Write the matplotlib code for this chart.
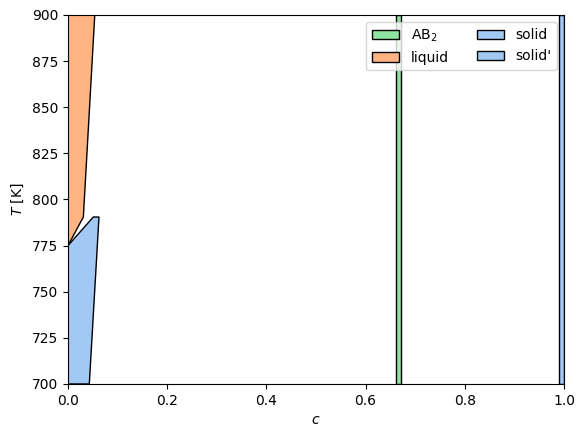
import matplotlib
matplotlib.use("Agg")
import matplotlib.pyplot as plt

# Phase regions (composition c, temperature T)
ab2_c = [0.6617, 0.6717, 0.6717, 0.6617]
ab2_T = [700, 700, 900, 900]

liquid_c = [0.0, 0.054, 0.031, 0.0]
liquid_T = [900, 900, 790.5, 775]

solid_c = [0.0, 0.043, 0.0625, 0.051, 0.0]
solid_T = [700, 700, 790.5, 790.5, 775]

solidp_c = [0.989, 1.0, 1.0, 0.989]
solidp_T = [700, 700, 900, 900]

colors = {"AB$_2$": "#8de5a1", "liquid": "#ffb482", "solid": "#a1c9f4", "solid'": "#a1c9f4"}

fig = plt.figure(figsize=(5.84, 4.38), dpi=100)
ax = fig.add_axes([0.1164, 0.1233, 0.8494, 0.8425])

ax.fill(ab2_c, ab2_T, facecolor=colors["AB$_2$"], edgecolor="black", linewidth=1, label="AB$_2$")
ax.fill(liquid_c, liquid_T, facecolor=colors["liquid"], edgecolor="black", linewidth=1, label="liquid")
ax.fill(solid_c, solid_T, facecolor=colors["solid"], edgecolor="black", linewidth=1, label="solid")
ax.fill(solidp_c, solidp_T, facecolor=colors["solid'"], edgecolor="black", linewidth=1, label="solid'")

ax.set_xlim(0, 1)
ax.set_ylim(700, 900)
ax.set_xlabel("$c$")
ax.set_ylabel("$T$ [K]")
ax.legend(loc="upper right", ncol=2)

fig.savefig("out.png", dpi=100)
